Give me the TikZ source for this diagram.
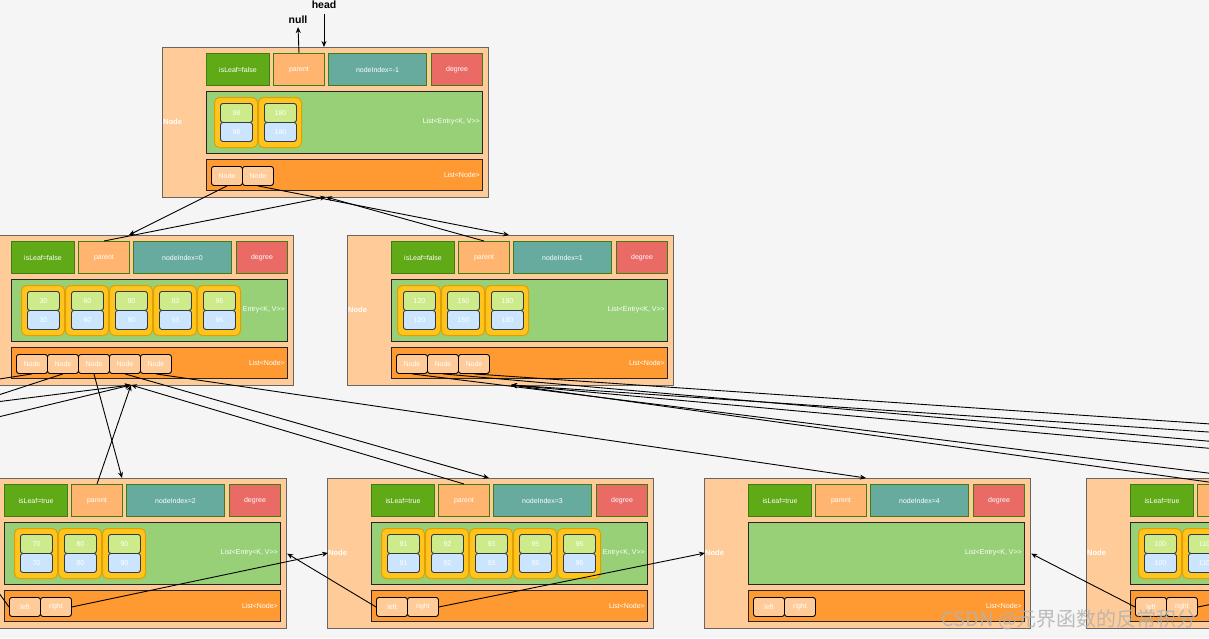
\documentclass[tikz,border=0pt]{standalone}
\usepackage{fontspec}
\setmainfont{Liberation Sans}
\newfontfamily\cjk{Noto Sans CJK SC}
\usetikzlibrary{arrows.meta}
\definecolor{PageGrey}{RGB}{245,245,245}
\definecolor{NodePeach}{RGB}{255,204,153}
\definecolor{FrameGrey}{RGB}{102,102,102}
\definecolor{LeafGreen}{RGB}{96,169,23}
\definecolor{LeafEdge}{RGB}{60,125,20}
\definecolor{ParentOrange}{RGB}{255,181,112}
\definecolor{IndexTeal}{RGB}{103,171,159}
\definecolor{DegreeRed}{RGB}{234,107,102}
\definecolor{ListGreen}{RGB}{151,208,119}
\definecolor{ChildOrange}{RGB}{255,154,51}
\definecolor{EntryGold}{RGB}{255,196,30}
\definecolor{EntryEdge}{RGB}{225,160,0}
\definecolor{KeyGreen}{RGB}{205,235,139}
\definecolor{ValBlue}{RGB}{204,229,255}
\definecolor{CellEdge}{RGB}{54,57,61}

% one B-tree node: name, x, y, isLeaf, nodeIndex, entry label, child chips
\newcommand{\treenode}[7]{%
  \begin{scope}[shift={(#2,#3)}]
    \node[outer] (#1) at (0,0) {};
    \node[title] (#1-lbl) at (1,75) {Node};
    \node[field, fill=LeafGreen, minimum width=63pt] (#1-leaf) at (44,6) {isLeaf=#4};
    \node[field, fill=ParentOrange, minimum width=51pt] (#1-parent) at (111,6) {parent};
    \node[field, fill=IndexTeal, minimum width=98pt] (#1-index) at (166,6) {nodeIndex=#5};
    \node[field, fill=DegreeRed, minimum width=51pt] (#1-degree) at (269,6) {degree};
    \node[listbox, fill=ListGreen, minimum height=62pt] (#1-keys) at (44,44) {};
    \node[listbox, fill=ChildOrange, minimum height=31pt] (#1-kids) at (44,112) {};
    \node[tag] (#1-keytag) at (318,75) {#6};
    \node[tag] (#1-kidtag) at (318,128) {List<Node>};
    \foreach \t [count=\i] in {#7}
      \node[chip] (#1-c\i) at (18+31*\i,119) {\t};
    \coordinate (#1-in) at (162,0);
    \coordinate (#1-up) at (164,150);
  \end{scope}}

% the entries of a node: name, x, y, keys
\newcommand{\entrylist}[4]{%
  \begin{scope}[shift={(#2,#3)}]
    \foreach \v [count=\i] in {#4} {
      \node[entry] (#1-e\i) at (8+44*\i,50) {};
      \node[keycell] (#1-k\i) at (14+44*\i,56) {\v};
      \node[valcell] (#1-v\i) at (14+44*\i,75) {\v};
    }
  \end{scope}}

\begin{document}
\begin{tikzpicture}[x=1pt, y=-1pt, every node/.style={font=\fontsize{7}{8}\selectfont}]
\tikzset{
  outer/.style={draw=FrameGrey, fill=NodePeach, line width=1.2pt, anchor=north west, inner sep=0pt, minimum width=326pt, minimum height=150pt},
  title/.style={anchor=west, text=white, inner sep=0pt, font=\fontsize{7.5}{8}\selectfont\bfseries},
  field/.style={draw=LeafEdge, line width=1pt, anchor=north west, minimum height=32pt, inner sep=0pt, text=white},
  listbox/.style={draw=black!85, line width=1.2pt, anchor=north west, minimum width=276pt, inner sep=0pt},
  tag/.style={anchor=east, text=white, inner sep=0pt},
  chip/.style={draw=black, fill=NodePeach, rounded corners=2.5pt, line width=0.9pt, anchor=north west, minimum width=31pt, minimum height=19pt, inner sep=0pt, text=white},
  entry/.style={draw=EntryEdge, fill=EntryGold, rounded corners=5pt, line width=1pt, anchor=north west, minimum width=43pt, minimum height=50pt, inner sep=0pt},
  keycell/.style={draw=CellEdge, fill=KeyGreen, rounded corners=2.5pt, line width=0.9pt, anchor=north west, minimum width=32pt, minimum height=19pt, inner sep=0pt, text=white},
  valcell/.style={keycell, fill=ValBlue},
  link/.style={-{Stealth[length=6pt,width=5pt]}, line width=0.9pt},
  caption/.style={font=\fontsize{10.5}{12}\selectfont\bfseries, inner sep=2pt}
}
  \useasboundingbox (0,0) rectangle (1209,638);
  \clip (0,0) rectangle (1209,638);
  \fill[PageGrey] (0,0) rectangle (1209,638);

  \treenode{root}{162}{47}{false}{-1}{List<Entry<K, V>{}>}{Node,Node}
  \entrylist{root}{162}{47}{98,180}
  \treenode{n0}{-33}{235}{false}{0}{Entry<K, V>{}>}{Node,Node,Node,Node,Node}
  \entrylist{n0}{-31}{235}{30,60,90,93,96}
  \treenode{n1}{347}{235}{false}{1}{List<Entry<K, V>{}>}{Node,Node,Node}
  \entrylist{n1}{345}{235}{120,150,180}
  \treenode{n2}{-40}{478}{true}{2}{List<Entry<K, V>{}>}{left,right}
  \entrylist{n2}{-38}{478}{70,80,90}
  \treenode{n3}{327}{478}{true}{3}{Entry<K, V>{}>}{left,right}
  \entrylist{n3}{329}{478}{91,92,93,95,96}
  \treenode{n4}{704}{478}{true}{4}{List<Entry<K, V>{}>}{left,right}
  \treenode{n5}{1086}{478}{true}{5}{List<Entry<K, V>{}>}{left,right}
  \entrylist{n5}{1086}{478}{100,110}

  % nodes beyond the edges
  \coordinate (L1-in) at (-255,478);
  \coordinate (L1-parent) at (-280,484);
  \coordinate (L1-east) at (-30,553);
  \coordinate (L2-in) at (-632,478);
  \coordinate (L2-parent) at (-657,484);
  \coordinate (R6-in) at (1628,478);
  \coordinate (R6-parent) at (1603,484);
  \coordinate (R6-lbl) at (1467,553);
  \coordinate (R7-in) at (2005,478);
  \coordinate (R7-parent) at (1980,484);

  \node[caption] (hd) at (324,5) {head};
  \node[caption] (nul) at (298,20) {null};
  \draw[link, shorten <=3pt] (hd.south) -- (root-in);
  \draw[link, shorten >=1pt] (root-parent.north) -- (nul.south);

  \draw[link] (root-c1.south) -- (n0-in);
  \draw[link] (root-c2.south) -- (n1-in);
  \draw[link] (n0-parent.north) -- (root-up);
  \draw[link] (n1-parent.north) -- (root-up);

  \draw[link] (n0-c1.south) -- (L2-in);
  \draw[link] (n0-c2.south) -- (L1-in);
  \draw[link] (n0-c3.south) -- (n2-in);
  \draw[link] (n0-c4.south) -- (n3-in);
  \draw[link] (n0-c5.south) -- (n4-in);
  \draw[link] (L2-parent) -- (n0-up);
  \draw[link] (L1-parent) -- (n0-up);
  \draw[link] (n2-parent.north) -- (n0-up);
  \draw[link] (n3-parent.north) -- (n0-up);

  \draw[link] (n1-c1.south) -- (n5-in);
  \draw[link] (n1-c2.south) -- (R6-in);
  \draw[link] (n1-c3.south) -- (R7-in);
  \draw[link] (n5-parent.north) -- (n1-up);
  \draw[link] (R6-parent) -- (n1-up);
  \draw[link] (R7-parent) -- (n1-up);

  % leaf links
  \draw[link] (n2-c1.west) -- (L1-east);
  \draw[link] (n2-c2.east) -- (n3-lbl.west);
  \draw[link] (n3-c1.west) -- (n2.east);
  \draw[link] (n3-c2.east) -- (n4-lbl.west);
  \draw[link] (n5-c1.west) -- (n4.east);
  \draw[link] (n5-c2.east) -- (R6-lbl);

  \node[anchor=base west, text=gray!60, opacity=0.85, inner sep=0pt, font=\cjk\fontsize{20}{20}\selectfont] (mark) at (941,626) {CSDN @元界函数的反常积分};
\end{tikzpicture}
\end{document}
